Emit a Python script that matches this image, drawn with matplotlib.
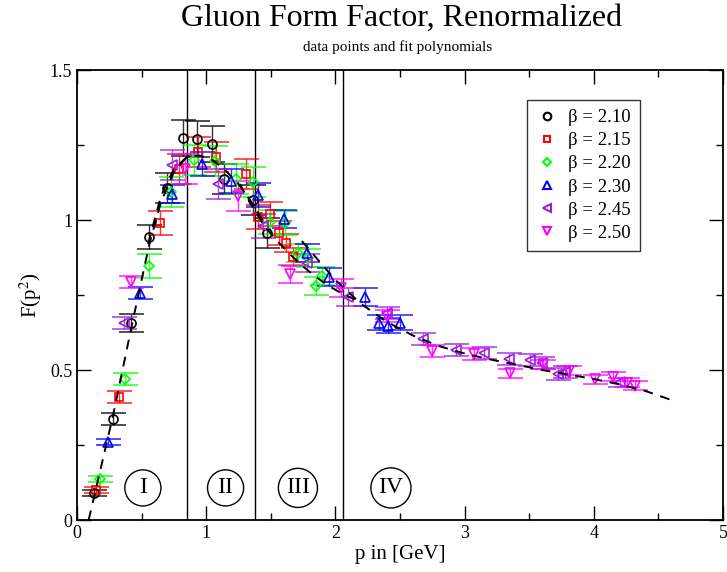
import numpy as np
import matplotlib
matplotlib.use("Agg")
import matplotlib.pyplot as plt
from matplotlib.lines import Line2D

plt.rcParams['font.family'] = ['Liberation Serif', 'DejaVu Serif']
plt.rcParams['mathtext.fontset'] = 'stix'

# lattice data, one set per beta
x_210 = [0.13, 0.28, 0.42, 0.56, 0.70, 0.82, 0.93, 1.045, 1.14, 1.36, 1.47]
y_210 = [0.09, 0.337, 0.657, 0.943, 1.107, 1.273, 1.27, 1.253, 1.137, 1.067, 0.957]
e_210 = [0.01, 0.02, 0.03, 0.04, 0.05, 0.06, 0.06, 0.06, 0.05, 0.05, 0.05]

x_215 = [0.15, 0.325, 0.64, 0.79, 0.94, 1.075, 1.31, 1.40, 1.49, 1.56, 1.62, 1.67]
y_215 = [0.10, 0.41, 0.99, 1.17, 1.227, 1.21, 1.153, 1.01, 1.02, 0.957, 0.923, 0.877]
e_215 = [0.01, 0.02, 0.04, 0.05, 0.05, 0.05, 0.05, 0.04, 0.04, 0.04, 0.03, 0.03]

x_220 = [0.18, 0.37, 0.56, 0.73, 0.905, 1.07, 1.23, 1.36, 1.49, 1.61, 1.71, 1.79, 1.85, 1.90]
y_220 = [0.137, 0.47, 0.847, 1.093, 1.20, 1.197, 1.137, 1.127, 0.993, 0.99, 0.89, 0.873, 0.78, 0.813]
e_220 = [0.01, 0.02, 0.04, 0.05, 0.05, 0.05, 0.05, 0.05, 0.04, 0.04, 0.03, 0.03, 0.03, 0.03]

x_230 = [0.24, 0.49, 0.735, 0.97, 1.19, 1.40, 1.60, 1.78, 1.95, 2.23, 2.34, 2.41, 2.50]
y_230 = [0.26, 0.757, 1.087, 1.187, 1.13, 1.083, 1.003, 0.89, 0.81, 0.743, 0.657, 0.647, 0.657]
e_230 = [0.01, 0.02, 0.03, 0.04, 0.04, 0.04, 0.03, 0.03, 0.03, 0.03, 0.025, 0.025, 0.025]

x_245 = [0.36, 0.735, 1.09, 1.44, 1.78, 2.10, 2.40, 2.68, 2.93, 3.15, 3.34, 3.51, 3.60, 3.72, 3.78, 4.20]
y_245 = [0.657, 1.183, 1.12, 0.98, 0.857, 0.743, 0.69, 0.603, 0.567, 0.557, 0.537, 0.533, 0.523, 0.487, 0.493, 0.46]
e_245 = [0.02, 0.05, 0.05, 0.04, 0.03, 0.03, 0.02, 0.02, 0.02, 0.02, 0.02, 0.02, 0.02, 0.02, 0.02, 0.015]

x_250 = [0.42, 0.835, 1.25, 1.65, 2.04, 2.40, 2.75, 3.07, 3.35, 3.61, 3.81, 4.01, 4.15, 4.26, 4.32]
y_250 = [0.793, 1.17, 1.08, 0.82, 0.773, 0.68, 0.563, 0.553, 0.49, 0.52, 0.497, 0.47, 0.477, 0.457, 0.447]
e_250 = [0.02, 0.05, 0.05, 0.03, 0.03, 0.02, 0.02, 0.02, 0.015, 0.015, 0.015, 0.015, 0.015, 0.015, 0.015]

# fit polynomials, sampled per momentum region
fit1_x = [0.09, 0.15, 0.28, 0.42, 0.56, 0.65, 0.75, 0.85]
fit1_y = [0.0, 0.11, 0.35, 0.64, 0.92, 1.06, 1.16, 1.21]
fit2_x = [0.55, 0.65, 0.75, 0.85, 0.95, 1.05, 1.15, 1.25, 1.35, 1.45]
fit2_y = [0.92, 1.08, 1.17, 1.21, 1.215, 1.20, 1.165, 1.12, 1.06, 0.99]
fit3_x = [1.26, 1.35, 1.45, 1.55, 1.65, 1.75, 1.85, 1.95, 2.05, 2.15]
fit3_y = [1.12, 1.05, 0.98, 0.93, 0.885, 0.845, 0.81, 0.78, 0.755, 0.735]
fit4_x = [1.74, 1.9, 2.0, 2.2, 2.4, 2.6, 2.8, 3.0, 3.2, 3.4, 3.6, 3.8, 4.0, 4.2, 4.4, 4.6]
fit4_y = [0.93, 0.85, 0.80, 0.72, 0.66, 0.615, 0.58, 0.555, 0.535, 0.518, 0.50, 0.485, 0.47, 0.452, 0.43, 0.40]

region_bounds = [0.85, 1.38, 2.06]
region_names = ['I', 'II', 'III', 'IV']
region_x = [0.51, 1.15, 1.71, 2.43]

sets = [
    (x_210, y_210, e_210, 'o', 'black', 'β = 2.10'),
    (x_215, y_215, e_215, 's', 'red', 'β = 2.15'),
    (x_220, y_220, e_220, 'D', '#00ff00', 'β = 2.20'),
    (x_230, y_230, e_230, '^', 'blue', 'β = 2.30'),
    (x_245, y_245, e_245, '<', '#9a1ee0', 'β = 2.45'),
    (x_250, y_250, e_250, 'v', '#ff00ff', 'β = 2.50'),
]

fig = plt.figure(figsize=(7.27, 5.72), dpi=100)
ax = fig.add_axes([0.1059, 0.0909, 0.8886, 0.7867])

handles = []
for xs, ys, es, mk, col, lab in sets:
    ms = 5 if mk == 'D' else 6.5
    if mk == 's':
        ms = 5.5
    ax.errorbar(xs, ys, yerr=es, fmt='none', ecolor=col, elinewidth=1,
                capsize=9, capthick=1.2, alpha=0.8, zorder=2)
    ax.plot(xs, ys, linestyle='none', marker=mk, ms=ms, mfc='none',
            mec=col, mew=1.2, zorder=3)
    handles.append(Line2D([], [], linestyle='none', marker=mk, ms=ms - 1,
                          mfc='none', mec=col, mew=1.5, label=lab))

for fx, fy in [(fit1_x, fit1_y), (fit2_x, fit2_y), (fit3_x, fit3_y), (fit4_x, fit4_y)]:
    ax.plot(fx, fy, color='black', linestyle=(0, (5, 4)), lw=1.4, zorder=4)

for b in region_bounds:
    ax.axvline(b, color='black', lw=1, zorder=1)

for name, rx in zip(region_names, region_x):
    ax.text(rx, 0.107, name, fontsize=17, ha='center', va='center',
            bbox=dict(boxstyle='circle,pad=0.32', fc='none', ec='black', lw=1))

ax.set_xlim(0, 5)
ax.set_ylim(0, 1.5)
ax.set_xticks([0, 1, 2, 3, 4, 5])
ax.set_xticks(np.arange(0, 5.01, 0.5), minor=True)
ax.set_yticks([0, 0.5, 1, 1.5])
ax.set_yticklabels(['0', '0.5', '1', '1.5'])
ax.set_yticks(np.arange(0, 1.51, 0.25), minor=True)
ax.tick_params(which='both', direction='in', top=True, right=True, labelsize=13, width=1)
ax.tick_params(which='major', length=10)
ax.tick_params(which='minor', length=5)
for s in ax.spines.values():
    s.set_linewidth(1.3)

ax.set_xlabel('p in [GeV]', fontsize=15, labelpad=2)
ax.set_ylabel(r'F(p$^2$)', fontsize=15, labelpad=4)

leg = ax.legend(handles=handles, loc='upper right', bbox_to_anchor=(0.8715, 0.934),
                borderaxespad=0, fontsize=13.5, frameon=True, fancybox=False,
                edgecolor='black', handletextpad=0.5, labelspacing=0.32,
                borderpad=0.5, handlelength=1.2)
leg.get_frame().set_linewidth(1)

fig.text(0.553, 0.968, 'Gluon Form Factor, Renormalized', fontsize=23, ha='center', va='center')
fig.text(0.547, 0.918, 'data points and fit polynomials', fontsize=11, ha='center', va='center')

fig.savefig('out.png', dpi=100)
